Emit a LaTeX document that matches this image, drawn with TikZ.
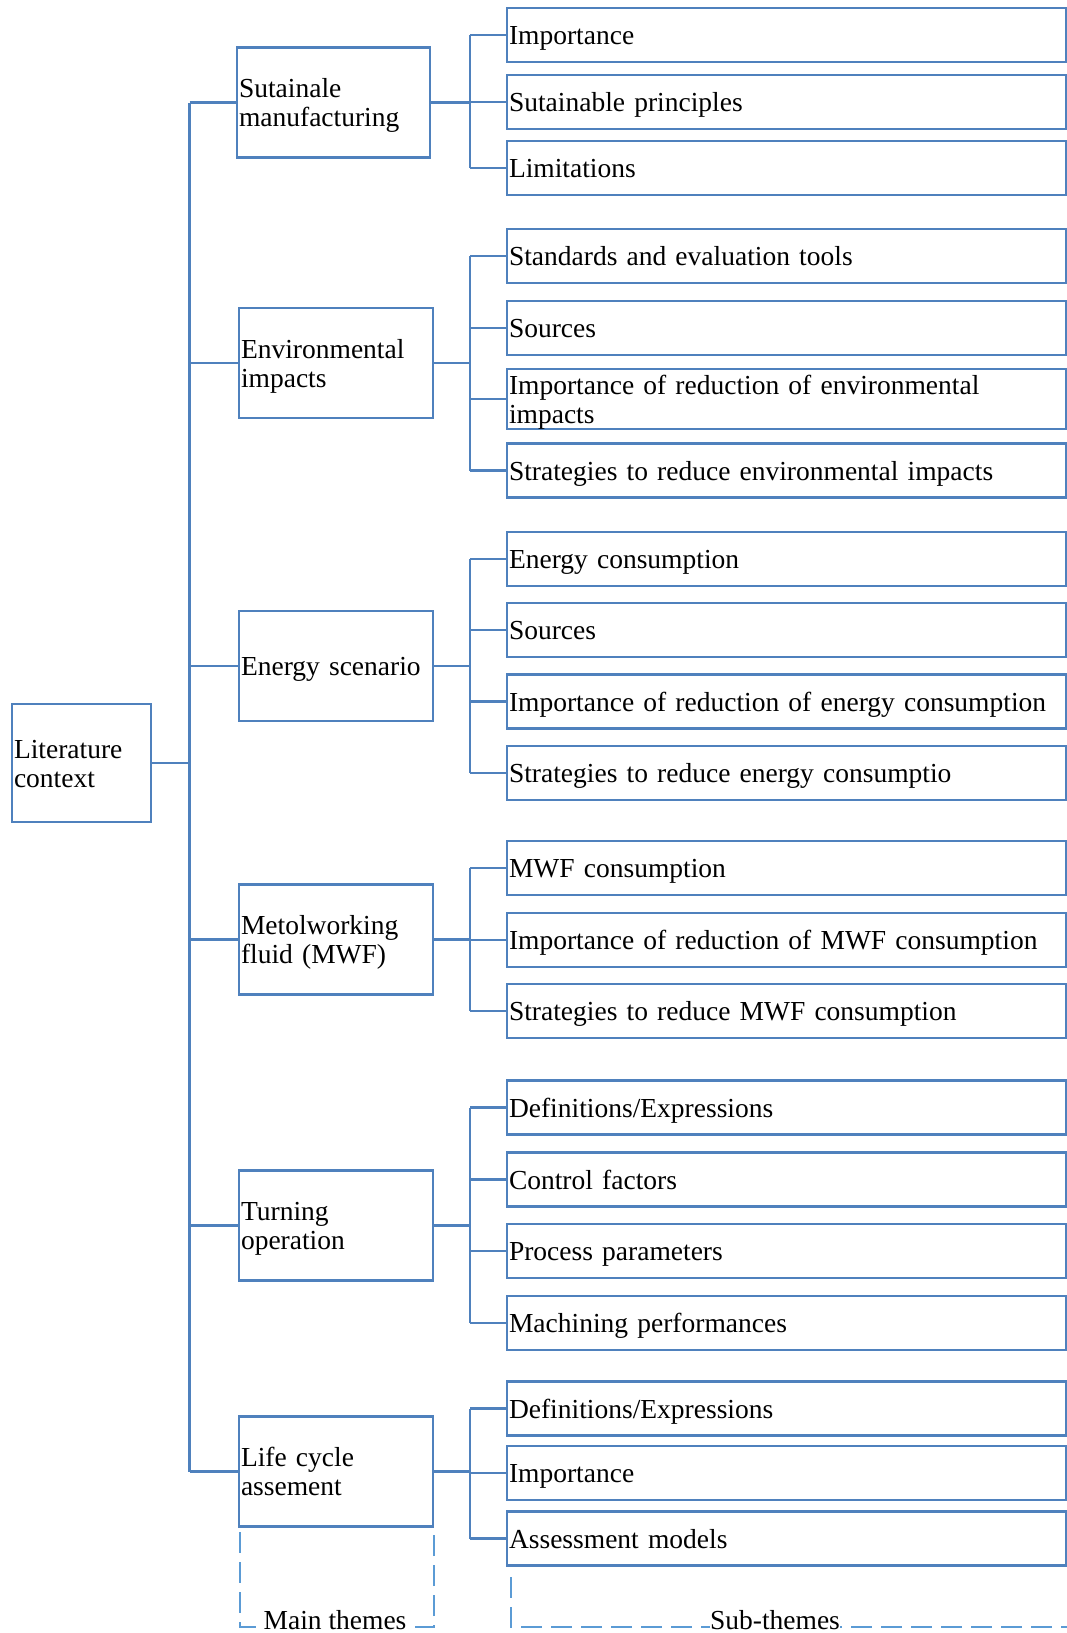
\documentclass[tikz,border=0pt]{standalone}
\usepackage{fontspec}
\setmainfont{Liberation Serif}
\definecolor{bl}{RGB}{79,129,189}
\definecolor{dl}{RGB}{91,155,213}
\tikzset{
  txt/.style={font=\fontsize{27.5}{29}\selectfont},
  boxbase/.style={txt, draw=bl, line width=2.2pt, rectangle, inner xsep=2pt, inner ysep=0pt, align=left,
    execute at begin node={\rule{0pt}{25pt}}, execute at end node={\rule[-6pt]{0pt}{6pt}}},
  mainbox/.style={boxbase, text width=190pt, minimum height=110pt},
  litbox/.style={boxbase, text width=135pt, minimum height=118pt},
  subbox/.style={boxbase, text width=555pt, minimum height=54pt},
  conn/.style={draw=bl, line width=2.4pt},
  trunk/.style={draw=bl, line width=2.7pt},
  legline/.style={draw=dl, line width=2.4pt, dash pattern=on 21pt off 9pt},
  legtext/.style={txt, fill=white, inner sep=0.5pt, anchor=base}
}
\begin{document}
\begin{tikzpicture}[x=1pt,y=-1pt]
\useasboundingbox (0,0) rectangle (1067,1633);
\coordinate (T) at (189.5,0);
\coordinate (B) at (470,0);

\node[litbox] (lit) at (81.5,763) {Literature\\context};

\node[mainbox, text width=189pt] (m1) at (333.5,102.5) {Sutainale\\manufacturing};
\node[mainbox] (m2) at (336,363) {Environmental\\impacts};
\node[mainbox] (m3) at (336,666) {Energy scenario};
\node[mainbox] (m4) at (336,939.5) {Metolworking\\fluid (MWF)};
\node[mainbox] (m5) at (336,1225.5) {Turning\\operation};
\node[mainbox] (m6) at (336,1471.5) {Life cycle\\assement};

% sub-themes
\node[subbox] (s11) at (786.5,35) {Importance};
\node[subbox] (s12) at (786.5,102) {Sutainable principles};
\node[subbox] (s13) at (786.5,168) {Limitations};

\node[subbox] (s21) at (786.5,256) {Standards and evaluation tools};
\node[subbox] (s22) at (786.5,328) {Sources};
\node[subbox] (s23) at (786.5,399) {Importance of reduction of environmental\\impacts};
\node[subbox] (s24) at (786.5,470.5) {Strategies to reduce environmental impacts};

\node[subbox] (s31) at (786.5,559) {Energy consumption};
\node[subbox] (s32) at (786.5,630) {Sources};
\node[subbox] (s33) at (786.5,701.5) {Importance of reduction of energy consumption};
\node[subbox] (s34) at (786.5,773) {Strategies to reduce energy consumptio};

\node[subbox] (s41) at (786.5,868) {MWF consumption};
\node[subbox] (s42) at (786.5,940) {Importance of reduction of MWF consumption};
\node[subbox] (s43) at (786.5,1011) {Strategies to reduce MWF consumption};

\node[subbox] (s51) at (786.5,1107.5) {Definitions/Expressions};
\node[subbox] (s52) at (786.5,1179.5) {Control factors};
\node[subbox] (s53) at (786.5,1251) {Process parameters};
\node[subbox] (s54) at (786.5,1323) {Machining performances};

\node[subbox] (s61) at (786.5,1408.5) {Definitions/Expressions};
\node[subbox] (s62) at (786.5,1473) {Importance};
\node[subbox] (s63) at (786.5,1538.5) {Assessment models};

% trunk
\draw[conn] (lit.east) -- (lit.east -| T);
\draw[trunk] (T |- m1.west) -- (T |- m6.west);
\foreach \m in {m1,m2,m3,m4,m5,m6} {
  \draw[conn] (T |- \m.west) -- (\m.west);
  \draw[conn] (\m.east) -- (\m.east -| B);
}
% buses
\draw[conn] (B |- s11.west) -- (B |- s13.west);
\draw[conn] (B |- s21.west) -- (B |- s24.west);
\draw[conn] (B |- s31.west) -- (B |- s34.west);
\draw[conn] (B |- s41.west) -- (B |- s43.west);
\draw[conn] (B |- s51.west) -- (B |- s54.west);
\draw[conn] (B |- s61.west) -- (B |- s63.west);
\foreach \s in {s11,s12,s13,s21,s22,s23,s24,s31,s32,s33,s34,s41,s42,s43,s51,s52,s53,s54,s61,s62,s63} {
  \draw[conn] (B |- \s.west) -- (\s.west);
}

% legend
\coordinate (ma) at (240,1532);
\coordinate (mb) at (240,1627);
\coordinate (mc) at (434,1627);
\coordinate (md) at (434,1532);
\draw[legline] (ma) -- (mb) -- (mc) -- (md);
\node[legtext] (lmain) at (335,1629.5) {Main themes};

\coordinate (sa) at (511,1577);
\coordinate (sb) at (511,1627);
\coordinate (sc) at (1070,1627);
\draw[legline] (sa) -- (sb) -- (sc);
\node[legtext] (lsub) at (775,1629.5) {Sub-themes};
\end{tikzpicture}
\end{document}
